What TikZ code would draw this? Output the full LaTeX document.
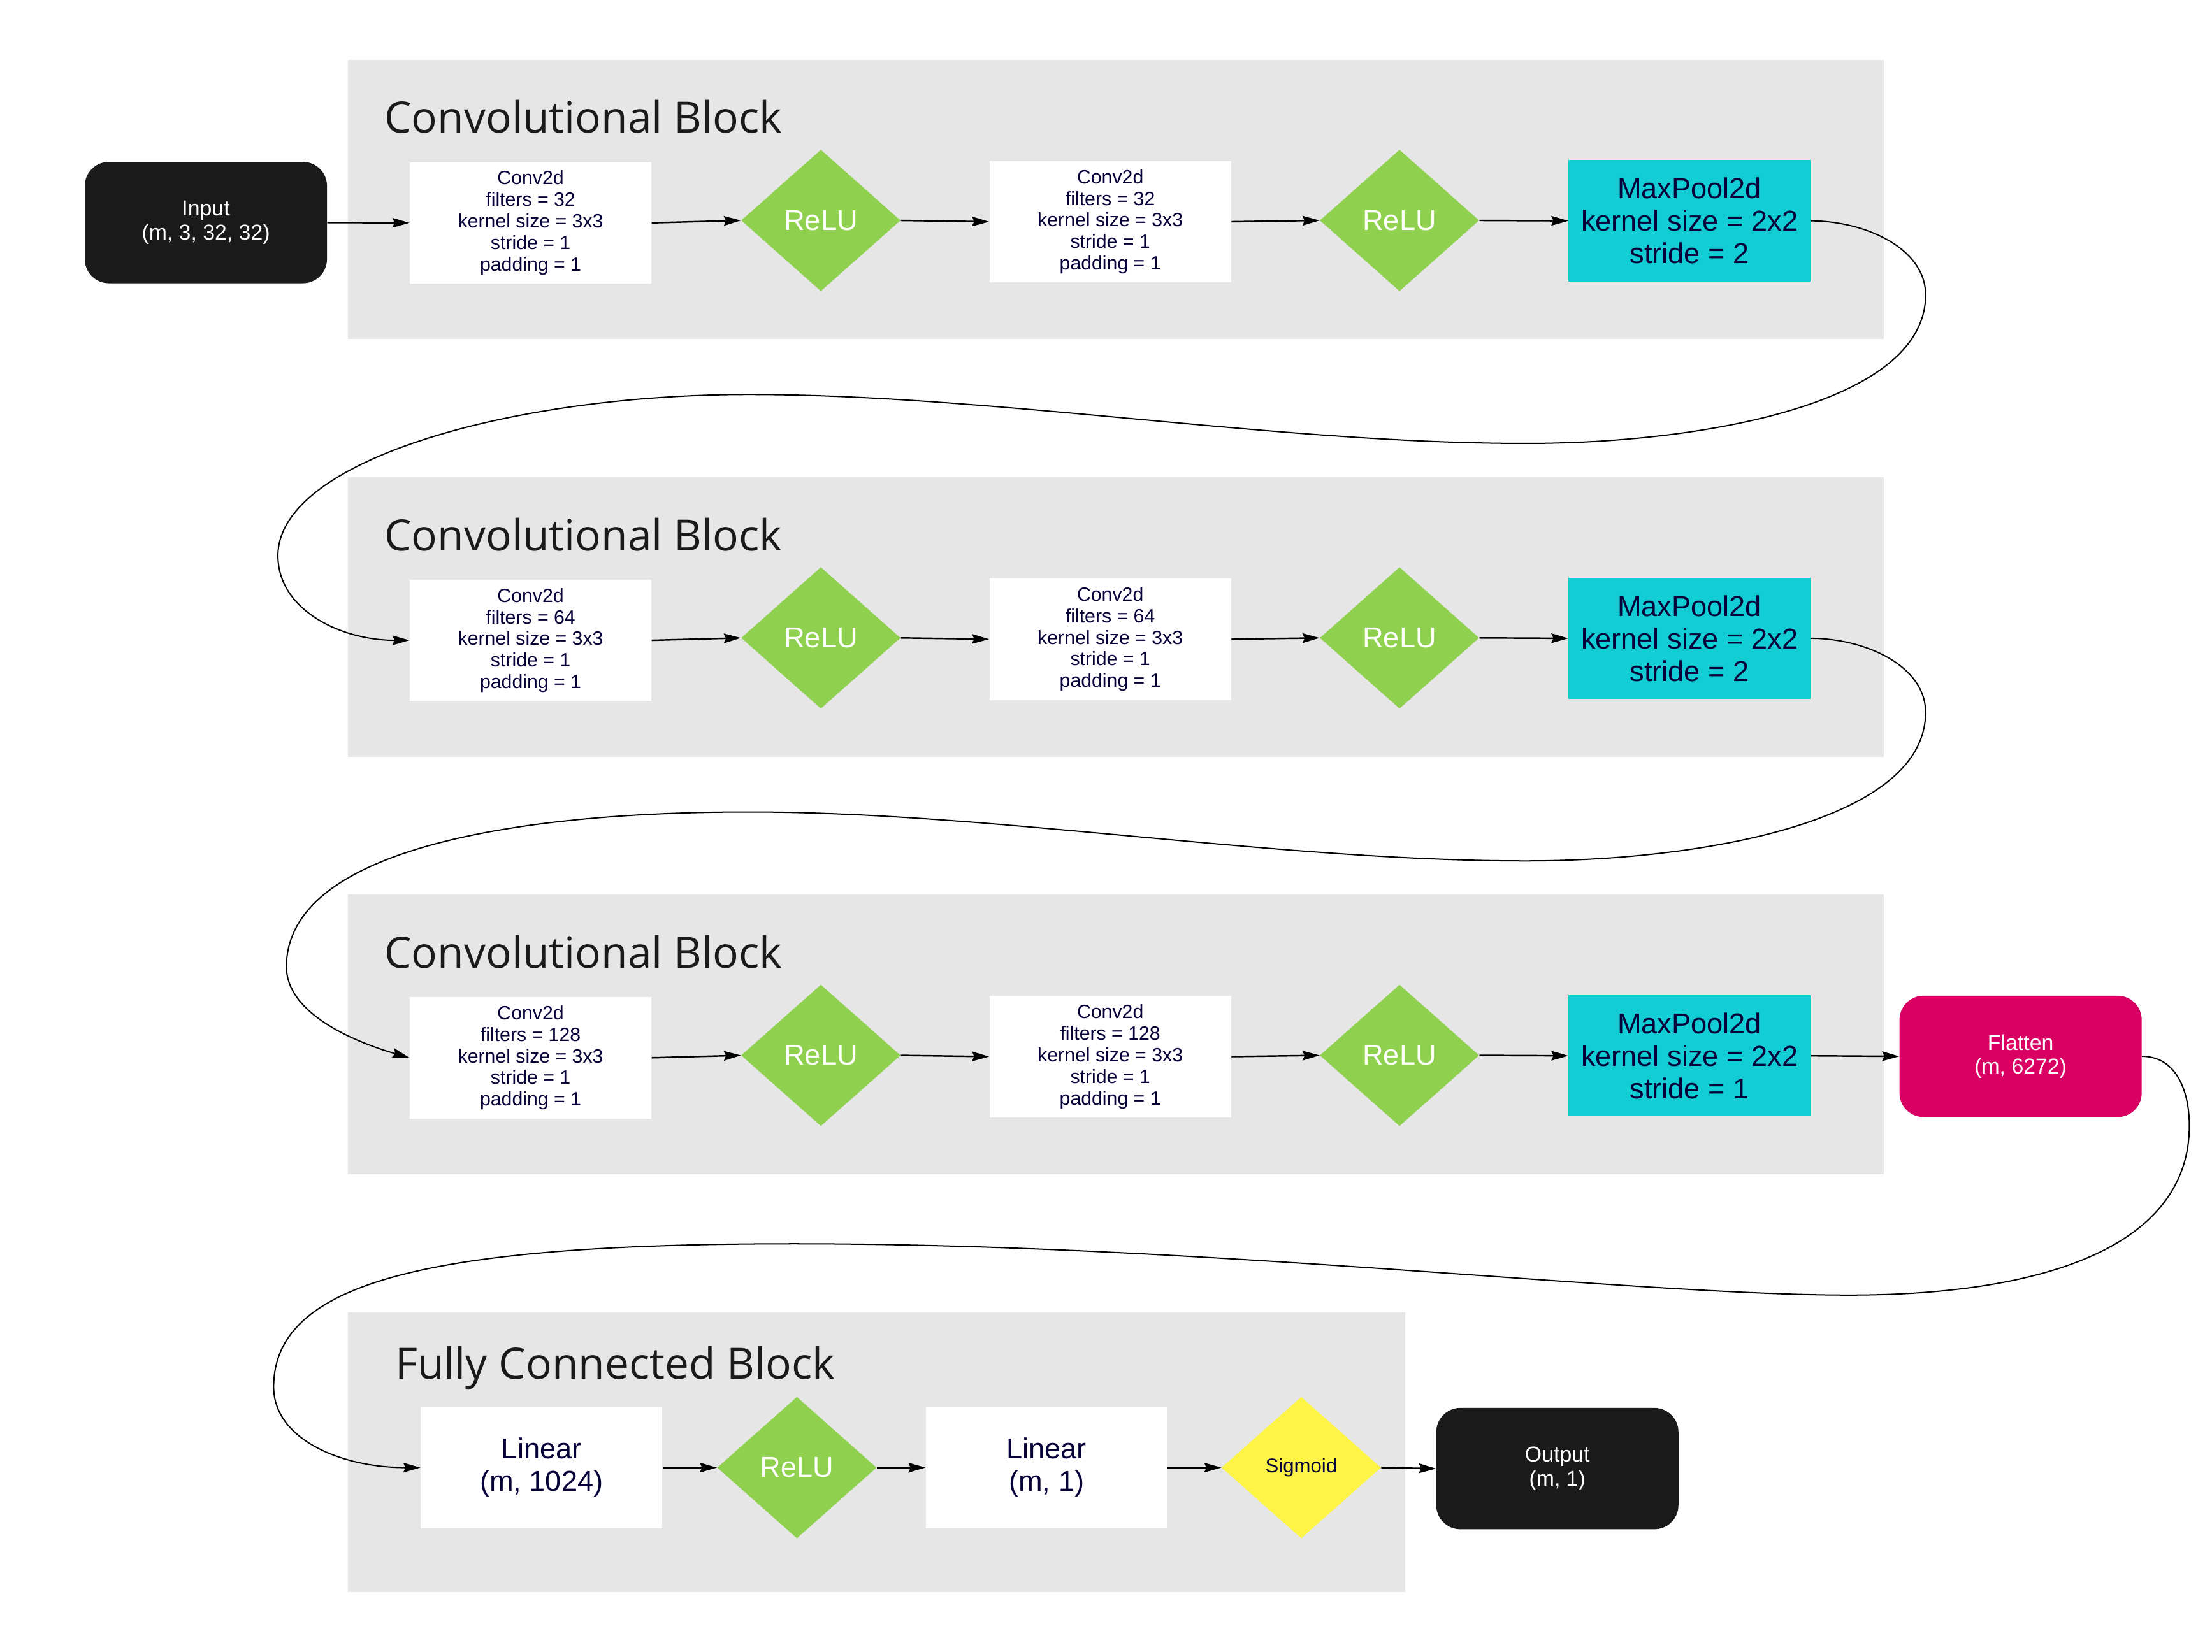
\documentclass[tikz,border=0pt]{standalone}
\usepackage{fontspec}
\setmainfont{Liberation Sans}
\newfontfamily\titlefont{Open Sans}
\usetikzlibrary{shapes.geometric,arrows.meta}
\definecolor{blockgray}{HTML}{E6E6E6}
\definecolor{relugreen}{HTML}{8FD14F}
\definecolor{poolcyan}{HTML}{12CDD4}
\definecolor{flatmag}{HTML}{DA0063}
\definecolor{sigyellow}{HTML}{FEF445}
\definecolor{termblack}{HTML}{1A1A1A}
\definecolor{navy}{HTML}{050038}
\begin{document}
\begin{tikzpicture}[x=1pt,y=-1pt,
  blockbg/.style={fill=blockgray,draw=none},
  blocktitle/.style={anchor=base west,inner sep=0pt,text=termblack,font=\titlefont\fontsize{30.4}{36}\selectfont},
  convbox/.style={rectangle,fill=white,draw=none,minimum width=170.5pt,minimum height=85.6pt,inner sep=0pt,align=center,text=navy,font=\fontsize{13.6}{15.2}\selectfont},
  linbox/.style={rectangle,fill=white,draw=none,minimum width=170.5pt,minimum height=85.6pt,inner sep=0pt,align=center,text=navy,font=\fontsize{20.3}{22.9}\selectfont},
  poolbox/.style={rectangle,fill=poolcyan,draw=none,minimum width=170.5pt,minimum height=85.6pt,inner sep=0pt,align=center,text=navy,font=\fontsize{20.3}{22.9}\selectfont},
  reludia/.style={diamond,fill=relugreen,draw=none,minimum width=112.4pt,minimum height=99.8pt,inner sep=0pt,text=white,font=\fontsize{20.3}{22.9}\selectfont},
  sigdia/.style={diamond,fill=sigyellow,draw=none,minimum width=112.4pt,minimum height=99.8pt,inner sep=0pt,text=navy,font=\fontsize{14}{16}\selectfont},
  termbox/.style={rectangle,rounded corners=17pt,fill=termblack,draw=none,minimum width=170.8pt,minimum height=85.6pt,inner sep=0pt,align=center,text=white,font=\fontsize{15.2}{16.9}\selectfont},
  flatbox/.style={termbox,fill=flatmag},
  arr/.style={-{Stealth[length=12pt,width=6.8pt,inset=1.5pt]},line width=1.1pt,black},
  curvearr/.style={-{Stealth[length=12pt,width=6.8pt,inset=1.5pt]},line width=0.9pt,black}]
\useasboundingbox (0,0) rectangle (1560,1165);
\fill[white] (0,0) rectangle (1560,1165);

% ---- block backgrounds
\fill[blockbg] (245.4,42.2) rectangle (1328.5,239.2);
\fill[blockbg] (245.4,336.7) rectangle (1328.5,533.7);
\fill[blockbg] (245.4,631.2) rectangle (1328.5,828.2);
\fill[blockbg] (245.4,925.8) rectangle (990.8,1123.1);

\node[blocktitle] (t1) at (270.9,93.9) {Convolutional Block};
\node[blocktitle] (t2) at (270.9,388.4) {Convolutional Block};
\node[blocktitle] (t3) at (270.9,682.9) {Convolutional Block};
\node[blocktitle] (t4) at (278.6,973) {Fully Connected Block};

% ---- row 1
\node[termbox] (inp) at (145.2,157) {Input\\(m, 3, 32, 32)};
\node[convbox] (c1a) at (374.2,157.2) {Conv2d\\filters = 32\\kernel size = 3x3\\stride = 1\\padding = 1};
\node[reludia] (r1a) at (578.9,155.5) {ReLU};
\node[convbox] (c1b) at (783,156.4) {Conv2d\\filters = 32\\kernel size = 3x3\\stride = 1\\padding = 1};
\node[reludia] (r1b) at (987,155.5) {ReLU};
\node[poolbox] (p1) at (1191.5,155.8) {MaxPool2d\\kernel size = 2x2\\stride = 2};

% ---- row 2
\node[convbox] (c2a) at (374.2,451.7) {Conv2d\\filters = 64\\kernel size = 3x3\\stride = 1\\padding = 1};
\node[reludia] (r2a) at (578.9,450) {ReLU};
\node[convbox] (c2b) at (783,450.9) {Conv2d\\filters = 64\\kernel size = 3x3\\stride = 1\\padding = 1};
\node[reludia] (r2b) at (987,450) {ReLU};
\node[poolbox] (p2) at (1191.5,450.3) {MaxPool2d\\kernel size = 2x2\\stride = 2};

% ---- row 3
\node[convbox] (c3a) at (374.2,746.2) {Conv2d\\filters = 128\\kernel size = 3x3\\stride = 1\\padding = 1};
\node[reludia] (r3a) at (578.9,744.5) {ReLU};
\node[convbox] (c3b) at (783,745.4) {Conv2d\\filters = 128\\kernel size = 3x3\\stride = 1\\padding = 1};
\node[reludia] (r3b) at (987,744.5) {ReLU};
\node[poolbox] (p3) at (1191.5,744.8) {MaxPool2d\\kernel size = 2x2\\stride = 1};
\node[flatbox] (fl) at (1425,745.2) {Flatten\\(m, 6272)};

% ---- FC row
\node[linbox] (l1) at (381.9,1035.3) {Linear\\(m, 1024)};
\node[reludia] (r4) at (562,1035.3) {ReLU};
\node[linbox] (l2) at (738.1,1035.3) {Linear\\(m, 1)};
\node[sigdia] (sg) at (917.7,1035.3) {Sigmoid};
\node[termbox] (out) at (1098.3,1036) {Output\\ (m, 1)};

% ---- straight connectors
\draw[arr] (inp.east) -- (c1a.west);
\draw[arr] (c1a.east) -- (r1a.west);
\draw[arr] (r1a.east) -- (c1b.west);
\draw[arr] (c1b.east) -- (r1b.west);
\draw[arr] (r1b.east) -- (p1.west);

\draw[arr] (c2a.east) -- (r2a.west);
\draw[arr] (r2a.east) -- (c2b.west);
\draw[arr] (c2b.east) -- (r2b.west);
\draw[arr] (r2b.east) -- (p2.west);

\draw[arr] (c3a.east) -- (r3a.west);
\draw[arr] (r3a.east) -- (c3b.west);
\draw[arr] (c3b.east) -- (r3b.west);
\draw[arr] (r3b.east) -- (p3.west);
\draw[arr] (p3.east) -- (fl.west);

\draw[arr] (l1.east) -- (r4.west);
\draw[arr] (r4.east) -- (l2.west);
\draw[arr] (l2.east) -- (sg.west);
\draw[arr] (sg.east) -- (out.west);

% ---- curved connectors
\draw[curvearr] (p1.east) .. controls (1315,155.8) and (1358,175) .. (1358,208)
  .. controls (1358,285) and (1200,312.8) .. (1076,312.8)
  .. controls (900,312.8) and (700,278.3) .. (528,278.3)
  .. controls (360,278.3) and (196,325) .. (196,392)
  .. controls (196,430) and (240,451.7) .. (c2a.west);
\draw[curvearr] (p2.east) .. controls (1315,450.3) and (1358,469.5) .. (1358,502.5)
  .. controls (1358,579.5) and (1200,607.3) .. (1076,607.3)
  .. controls (900,607.3) and (700,572.8) .. (528,572.8)
  .. controls (360,572.8) and (202,600) .. (202,682)
  .. controls (202,715) and (250,735) .. (c3a.west);
\draw[curvearr] (fl.east) .. controls (1535,745.2) and (1544,770) .. (1544,794)
  .. controls (1544,880) and (1440,913.6) .. (1304,913.6)
  .. controls (1150,913.6) and (850,877.4) .. (560,877.4)
  .. controls (300,877.4) and (193,905) .. (193,978.4)
  .. controls (193,1015) and (240,1035.3) .. (l1.west);
\end{tikzpicture}
\end{document}
